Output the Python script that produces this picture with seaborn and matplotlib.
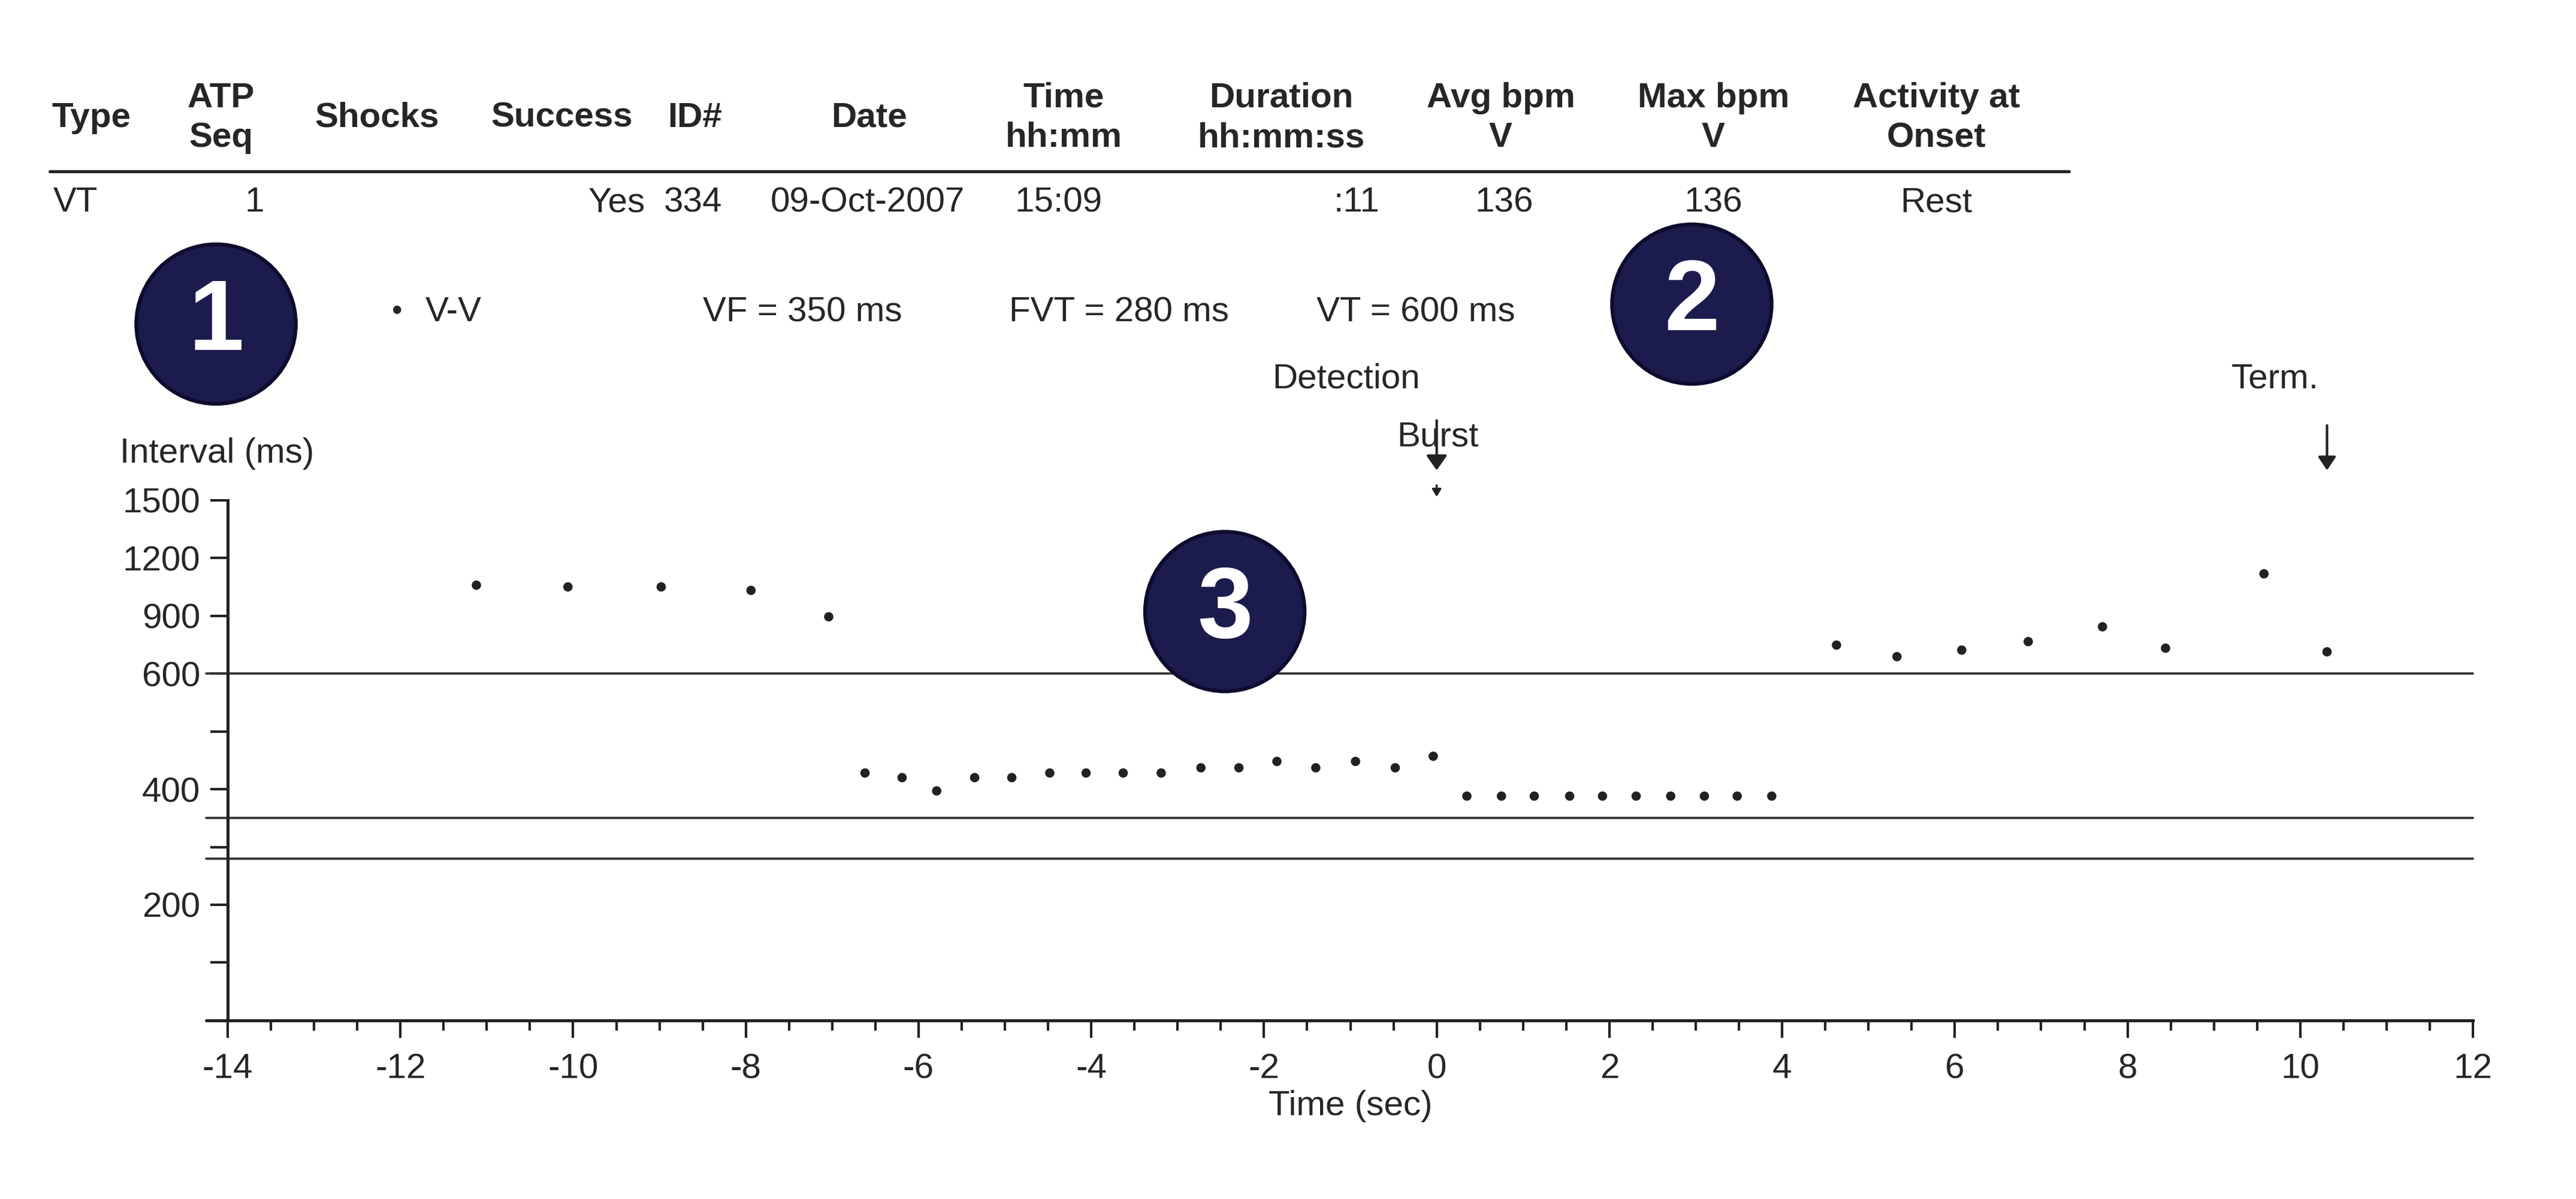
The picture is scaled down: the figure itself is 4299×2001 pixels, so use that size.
import numpy as np
import seaborn as sns
import matplotlib.pyplot as plt
from matplotlib.patches import Ellipse
from matplotlib.transforms import blended_transform_factory

# ---- data ----
time_s = [-11.12, -10.06, -8.98, -7.94, -7.04,
          -6.62, -6.19, -5.79, -5.35, -4.92, -4.48, -4.06, -3.63, -3.19, -2.73, -2.29,
          -1.85, -1.40, -0.94, -0.48, -0.04,
          0.35, 0.75, 1.13, 1.54, 1.92, 2.31, 2.71, 3.10, 3.48, 3.88,
          4.63, 5.33, 6.08, 6.85, 7.71, 8.44, 9.58, 10.31]
interval_ms = [1059, 1050, 1050, 1032, 895,
               428, 420, 397, 420, 420, 428, 428, 428, 428, 437, 437,
               448, 437, 448, 437, 457,
               388, 388, 388, 388, 388, 388, 388, 388, 388, 388,
               748, 688, 722, 766, 843, 732, 1118, 713]
zones_ms = [600, 350, 280]

header = ["Type", "ATP\nSeq", "Shocks", "Success", "ID#", "Date", "Time\nhh:mm",
          "Duration\nhh:mm:ss", "Avg bpm\nV", "Max bpm\nV", "Activity at\nOnset"]
row = ["VT", "1", "", "Yes", "334", "09-Oct-2007", "15:09", ":11", "136", "136", "Rest"]

W, H = 1550, 721.5
fx = lambda px: px / W
fy = lambda py: 1 - py / H

sns.set_style("white")
plt.rcParams['font.family'] = ['Liberation Sans', 'DejaVu Sans']
plt.rcParams['axes.unicode_minus'] = False

def fwd(v):
    v = np.asarray(v, dtype=float)
    return np.where(v <= 600, v / 100, 6 + (v - 600) / 300)

def inv(u):
    u = np.asarray(u, dtype=float)
    return np.where(u <= 6, u * 100, 600 + (u - 6) * 300)

fig = plt.figure(figsize=(4299 / 300, 2001 / 300), dpi=300)
ax = fig.add_axes([fx(137), fy(614), fx(1488) - fx(137), fy(301) - fy(614)])
ax.set_yscale('function', functions=(fwd, inv))

sns.scatterplot(x=time_s, y=interval_ms, ax=ax, color='#222222', s=14, edgecolor='none')
for z in zones_ms:
    ax.plot([-14.25, 12], [z, z], color='#333333', lw=0.9, clip_on=False)
ax.plot([-14.25, -14], [0, 0], color='#222222', lw=1.2, clip_on=False)

ax.set_xlim(-14, 12)
ax.set_ylim(0, 1500)
ax.set_xticks(np.arange(-14, 13, 2))
ax.set_xticks(np.arange(-14, 12.1, 0.5), minor=True)
yt = [0, 100, 200, 300, 400, 500, 600, 900, 1200, 1500]
ax.set_yticks(yt)
ax.set_yticklabels(['' if v in (0, 100, 300, 500) else str(v) for v in yt])
ax.yaxis.set_minor_locator(plt.NullLocator())
ax.tick_params(bottom=True, left=True)
ax.tick_params(axis='x', which='minor', bottom=True)
ax.tick_params(axis='both', which='major', direction='out', length=7, width=1, labelsize=14, color='#222222')
ax.tick_params(axis='x', which='minor', direction='out', length=4, width=1, color='#222222')
ax.tick_params(axis='y', pad=4)
ax.tick_params(axis='x', pad=6)
for s in ['top', 'right']:
    ax.spines[s].set_visible(False)
for s in ['left', 'bottom']:
    ax.spines[s].set_color('#222222')
    ax.spines[s].set_linewidth(1.2)
ax.set_xlabel("Time (sec)", fontsize=14, labelpad=2)
fig.text(fx(72), fy(273), "Interval (ms)", fontsize=14, va='center')

# ---- table ----
hx = [55, 133, 227, 338, 418, 523, 640, 771, 903, 1031, 1165]
dx = [32, 153, None, 371, 417, 522, 637, 830, 905, 1031, 1165]
for h, x in zip(header, hx):
    fig.text(fx(x), fy(71), h, fontsize=14, fontweight='bold', ha='center', va='center',
             linespacing=1.3)
fig.add_artist(plt.Line2D([fx(30), fx(1245)], [fy(103), fy(103)], color='#222222', lw=1.2))
for i, (v, x) in enumerate(zip(row, dx)):
    if x is None:
        continue
    ha = 'left' if i == 0 else ('right' if i == 7 else 'center')
    fig.text(fx(x), fy(122), v, fontsize=14, ha=ha, va='center')

# ---- legend line ----
fig.text(fx(239), fy(188), "\u2022", fontsize=12, ha='center', va='center')
fig.text(fx(256), fy(188), "V-V", fontsize=14, va='center')
fig.text(fx(423), fy(188), "VF = 350 ms", fontsize=14, va='center')
fig.text(fx(607), fy(188), "FVT = 280 ms", fontsize=14, va='center')
fig.text(fx(792), fy(188), "VT = 600 ms", fontsize=14, va='center')

# ---- markers ----
bt = blended_transform_factory(ax.transData, fig.transFigure)
fig.text(fx(810), fy(228), "Detection", fontsize=14, ha='center', va='center')
fig.text(fx(865), fy(263), "Burst", fontsize=14, ha='center', va='center')
fig.text(fx(1369), fy(228), "Term.", fontsize=14, ha='center', va='center')
ax.annotate("", xy=(0, fy(286)), xytext=(0, fy(250)), xycoords=bt, textcoords=bt,
            arrowprops=dict(arrowstyle='-|>,head_width=0.35,head_length=0.5', color='#222222', lw=1))
ax.annotate("", xy=(0, fy(302)), xytext=(0, fy(289)), xycoords=bt, textcoords=bt,
            arrowprops=dict(arrowstyle='-|>,head_width=0.15,head_length=0.25', color='#222222', lw=0.8))
ax.annotate("", xy=(10.31, fy(286)), xytext=(10.31, fy(253)), xycoords=bt, textcoords=bt,
            arrowprops=dict(arrowstyle='-|>,head_width=0.3,head_length=0.45', color='#222222', lw=1))

# ---- numbered badges ----
for num, cx, cy in [("1", 130, 195), ("2", 1018, 183), ("3", 737, 368)]:
    fig.add_artist(Ellipse((fx(cx), fy(cy)), 96 / W, 96 / H, facecolor='#1c1b4d',
                           edgecolor='#0d0c2e', lw=1.5))
    fig.text(fx(cx), fy(cy), num, fontsize=40, fontweight='bold', color='white',
             ha='center', va='center')

fig.savefig('out.png', dpi=300)
